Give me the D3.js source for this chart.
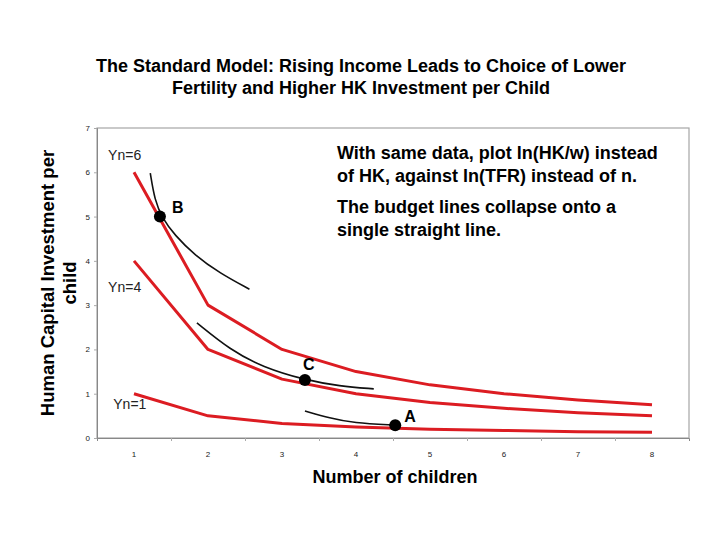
<!DOCTYPE html>
<html>
<head>
<meta charset="utf-8">
<script src="https://cdn.jsdelivr.net/npm/d3@7"></script>
<style>
  body { margin: 0; background: #fff; }
  svg { display: block; font-family: "Liberation Sans", Arial, sans-serif; }
</style>
</head>
<body>
<div id="chart"></div>
<script>
// Data
const children = [1, 2, 3, 4, 5, 6, 7, 8];
const yn6 = [6, 3, 2, 1.5, 1.2, 1.0, 0.86, 0.75];
const yn4 = [4, 2, 1.33, 1.0, 0.8, 0.67, 0.57, 0.5];
const yn1 = [1, 0.5, 0.33, 0.25, 0.2, 0.17, 0.14, 0.13];
const budgetNames = ["Yn=6", "Yn=4", "Yn=1"];

// indifference curves (n, HK)
const curveB = [[1.22, 5.98], [1.28, 5.37], [1.38, 4.97], [1.55, 4.58], [1.82, 4.13], [2.16, 3.72], [2.56, 3.36]];
const curveC = [[1.85, 2.6], [2.3, 1.99], [2.74, 1.6], [3.31, 1.31], [3.78, 1.17], [4.24, 1.11]];
const curveA = [[3.31, 0.61], [3.65, 0.45], [3.96, 0.34], [4.53, 0.29]];

const points = [
  { name: "B", n: 1.35, hk: 5.0 },
  { name: "C", n: 3.31, hk: 1.31 },
  { name: "A", n: 4.53, hk: 0.29 }
];

const yTicks = [0, 1, 2, 3, 4, 5, 6, 7];

// Config
const width = 720, height = 540;
const plot = { left: 97, right: 689, top: 128, bottom: 438 };
const red = "#dc1c22";
const pointLabelOffset = [[12, -4], [-2, -10], [9, -3]];
const budgetLabelPos = [[0.65, 6.27], [0.65, 3.3], [0.72, 0.65]];

const svg = d3.select("#chart").append("svg")
  .attr("width", width)
  .attr("height", height);

const x = d3.scaleLinear().domain([0.5, 8.5]).range([plot.left, plot.right]);
const y = d3.scaleLinear().domain([0, 7]).range([plot.bottom, plot.top]);

// Frame
svg.append("rect")
  .attr("x", plot.left).attr("y", plot.top)
  .attr("width", plot.right - plot.left).attr("height", plot.bottom - plot.top)
  .attr("fill", "none").attr("stroke", "#a6a6a6").attr("stroke-width", 1.2);

// Axes
const xAxis = svg.append("g")
  .attr("transform", `translate(0, ${plot.bottom})`)
  .call(d3.axisBottom(x).tickValues(d3.range(1.5, 8.5, 1)).tickSize(3).tickFormat(""));
xAxis.select(".domain").attr("stroke", "#888");
xAxis.selectAll(".tick line").attr("stroke", "#aaa");

svg.append("g").selectAll("text")
  .data(children)
  .join("text")
  .attr("x", d => x(d))
  .attr("y", plot.bottom + 19)
  .attr("text-anchor", "middle")
  .attr("font-size", 8)
  .attr("fill", "#222")
  .text(d => d);

const yAxis = svg.append("g")
  .attr("transform", `translate(${plot.left}, 0)`)
  .call(d3.axisLeft(y).tickValues(yTicks).tickSize(3).tickPadding(4).tickFormat(d3.format("d")));
yAxis.select(".domain").attr("stroke", "#888");
yAxis.selectAll(".tick line").attr("stroke", "#aaa");
yAxis.selectAll(".tick text").attr("font-size", 8).attr("fill", "#222")
  .attr("font-family", "Liberation Sans, Arial, sans-serif");

// Budget lines
const line = d3.line().x((d, i) => x(children[i])).y(d => y(d));
svg.append("g").selectAll("path")
  .data([yn6, yn4, yn1])
  .join("path")
  .attr("d", line)
  .attr("fill", "none")
  .attr("stroke", red)
  .attr("stroke-width", 3)
  .attr("stroke-linejoin", "round");

// Indifference curves
const curve = d3.line().x(d => x(d[0])).y(d => y(d[1])).curve(d3.curveBasis);
svg.append("g").selectAll("path")
  .data([curveB, curveC, curveA])
  .join("path")
  .attr("d", curve)
  .attr("fill", "none")
  .attr("stroke", "#111")
  .attr("stroke-width", 1.6);

// Points
svg.append("g").selectAll("circle")
  .data(points)
  .join("circle")
  .attr("cx", d => x(d.n))
  .attr("cy", d => y(d.hk))
  .attr("r", 6)
  .attr("fill", "#000");

svg.append("g").selectAll("text")
  .data(points)
  .join("text")
  .attr("x", (d, i) => x(d.n) + pointLabelOffset[i][0])
  .attr("y", (d, i) => y(d.hk) + pointLabelOffset[i][1])
  .attr("font-size", 16)
  .attr("font-weight", "bold")
  .text(d => d.name);

// Budget line labels
svg.append("g").selectAll("text")
  .data(budgetNames)
  .join("text")
  .attr("x", (d, i) => x(budgetLabelPos[i][0]))
  .attr("y", (d, i) => y(budgetLabelPos[i][1]))
  .attr("font-size", 14)
  .attr("fill", "#222")
  .text(d => d);

// Annotation text
const notes = [
  "With same data, plot ln(HK/w) instead",
  "of HK, against ln(TFR) instead of n.",
  "The budget lines collapse onto a",
  "single straight line."
];
svg.append("g").selectAll("text")
  .data(notes)
  .join("text")
  .attr("x", 337)
  .attr("y", (d, i) => [159, 182, 213, 236][i])
  .attr("font-size", 18)
  .attr("font-weight", "bold")
  .text(d => d);

// Title
svg.append("text")
  .attr("x", 361).attr("y", 72)
  .attr("text-anchor", "middle")
  .attr("font-size", 18)
  .attr("font-weight", "bold")
  .text("The Standard Model: Rising Income Leads to Choice of Lower");
svg.append("text")
  .attr("x", 361).attr("y", 94)
  .attr("text-anchor", "middle")
  .attr("font-size", 18)
  .attr("font-weight", "bold")
  .text("Fertility and Higher HK Investment per Child");

// Axis titles
svg.append("text")
  .attr("x", 395).attr("y", 483)
  .attr("text-anchor", "middle")
  .attr("font-size", 18)
  .attr("font-weight", "bold")
  .text("Number of children");

svg.append("text")
  .attr("transform", "translate(54, 283) rotate(-90)")
  .attr("text-anchor", "middle")
  .attr("font-size", 18.5)
  .attr("font-weight", "bold")
  .text("Human Capital Investment per");
svg.append("text")
  .attr("transform", "translate(76, 283) rotate(-90)")
  .attr("text-anchor", "middle")
  .attr("font-size", 18.5)
  .attr("font-weight", "bold")
  .text("child");
</script>
</body>
</html>
